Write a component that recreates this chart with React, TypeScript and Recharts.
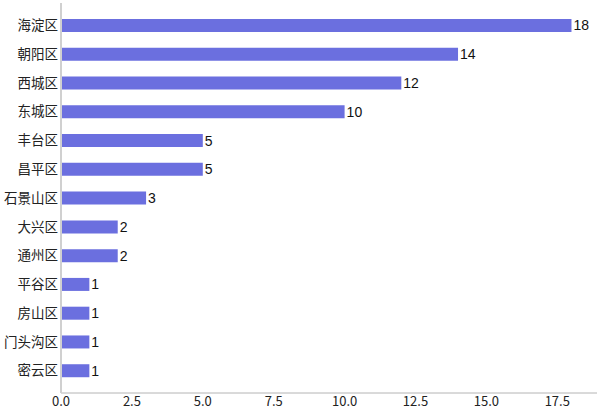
import { BarChart, Bar, XAxis, YAxis, LabelList } from 'recharts'

const districts = ['海淀区', '朝阳区', '西城区', '东城区', '丰台区', '昌平区', '石景山区', '大兴区', '通州区', '平谷区', '房山区', '门头沟区', '密云区']
const counts = [18, 14, 12, 10, 5, 5, 3, 2, 2, 1, 1, 1, 1]
const xTicks = [0, 2.5, 5, 7.5, 10, 12.5, 15, 17.5]

const data = districts.map((name, i) => ({ name, value: counts[i] }))

const cjk = '"Noto Sans CJK SC", "Noto Sans", sans-serif'

export default function App() {
  return (
    <div style={{ position: 'absolute', left: 0, top: 0, width: 600, height: 413, background: '#fff' }}>
      <BarChart
        width={600}
        height={413}
        data={data}
        layout="vertical"
        margin={{ top: 3, right: 3, left: 0, bottom: 0 }}
      >
        <XAxis
          type="number"
          domain={[0, 18.9]}
          ticks={xTicks}
          tickFormatter={(v: number) => v.toFixed(1)}
          tickLine={false}
          tickSize={0}
          tickMargin={4}
          axisLine={{ stroke: '#b4b4b4' }}
          tick={{ fill: '#222', fontSize: 13, fontFamily: cjk }}
          height={20}
          allowDataOverflow
        />
        <YAxis
          type="category"
          dataKey="name"
          width={61}
          tickLine={false}
          tickSize={0}
          axisLine={{ stroke: '#d0d0d0', strokeWidth: 2 }}
          tick={{ fill: '#222', fontSize: 13.5, fontFamily: cjk }}
          tickMargin={3}
          padding={{ top: 8, bottom: 8 }}
          interval={0}
        />
        <Bar dataKey="value" fill="#6b6fdf" barSize={13} isAnimationActive={false}>
          <LabelList
            dataKey="value"
            position="right"
            offset={2}
            style={{ fill: '#111', fontSize: 14, fontFamily: '"Liberation Sans", Arial, sans-serif' }}
          />
        </Bar>
      </BarChart>
    </div>
  )
}
